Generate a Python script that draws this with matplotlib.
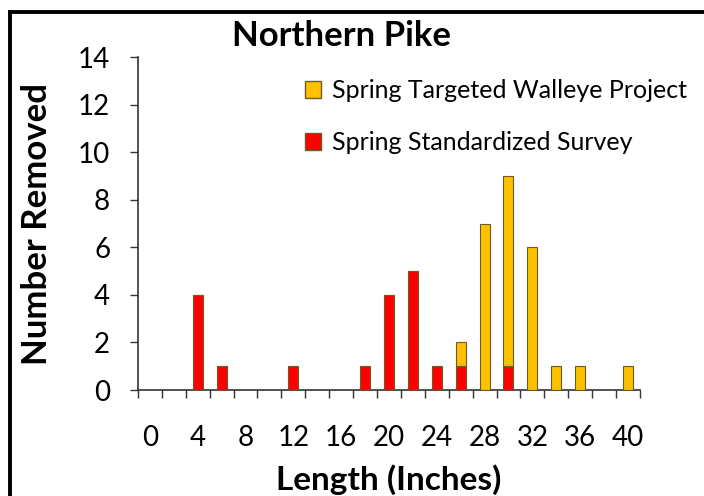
import matplotlib
matplotlib.use("Agg")
import matplotlib.pyplot as plt
from matplotlib.lines import Line2D
from matplotlib.patches import Patch

# data (length class in inches -> fish removed)
lengths = [0, 2, 4, 6, 8, 10, 12, 14, 16, 18, 20, 22, 24, 26, 28, 30, 32, 34, 36, 38, 40]
standardized = [0, 0, 4, 1, 0, 0, 1, 0, 0, 1, 4, 5, 1, 1, 0, 1, 0, 0, 0, 0, 0]
targeted = [0, 0, 0, 0, 0, 0, 0, 0, 0, 0, 0, 0, 0, 1, 7, 8, 6, 1, 1, 0, 1]
xtick_labels = [0, 4, 8, 12, 16, 20, 24, 28, 32, 36, 40]
yticks = [0, 2, 4, 6, 8, 10, 12, 14]

plt.rcParams['font.family'] = ['Lato', 'DejaVu Sans']

fig = plt.figure(figsize=(7.04, 4.96), dpi=100)
ax = fig.add_axes([0.196, 0.2137, 0.713, 0.6713])

edge = '#6b5a2a'
ax.bar(lengths, standardized, width=0.84, color='#ff0000', edgecolor=edge, linewidth=0.8, zorder=3)
ax.bar(lengths, targeted, width=0.84, bottom=standardized, color='#ffc000', edgecolor=edge, linewidth=0.8, zorder=3)

ax.set_xlim(-1, 41)
ax.set_ylim(0, 14)
ax.set_yticks(yticks)
ax.set_xticks(xtick_labels)
ax.set_xticks([x - 1 for x in lengths] + [41], minor=True)
ax.tick_params(axis='x', which='major', length=0, labelsize=20, pad=25)
ax.tick_params(axis='x', which='minor', length=6, width=1, direction='out', color='#333333')
ax.tick_params(axis='y', length=6, width=1, direction='out', labelsize=20, pad=14, color='#333333')
for s in ['top', 'right']:
    ax.spines[s].set_visible(False)
for s in ['left', 'bottom']:
    ax.spines[s].set_color('#333333')
    ax.spines[s].set_linewidth(1.2)

ax.set_xlabel('Length (Inches)', fontsize=24, fontweight='bold', labelpad=10)
ax.set_ylabel('Number Removed', fontsize=25, fontweight='bold', labelpad=18)
fig.text(0.485, 0.928, 'Northern Pike', fontsize=25, fontweight='bold', ha='center', va='center')

handles = [Patch(facecolor='#ffc000', edgecolor=edge), Patch(facecolor='#ff0000', edgecolor=edge)]
fig.legend(handles, ['Spring Targeted Walleye Project', 'Spring Standardized Survey'],
           loc='upper left', bbox_to_anchor=(0.433, 0.84), frameon=False, fontsize=18,
           handlelength=0.65, handleheight=0.65, handletextpad=0.45, labelspacing=1.15,
           borderaxespad=0, borderpad=0)

# outer frame (left and top edges visible)
fig.add_artist(Line2D([10/704, 10/704], [0, 1 - 12/496], color='black', lw=2.8))
fig.add_artist(Line2D([10/704, 1], [1 - 12/496, 1 - 12/496], color='black', lw=2.8))

fig.savefig('out.png', dpi=100)
